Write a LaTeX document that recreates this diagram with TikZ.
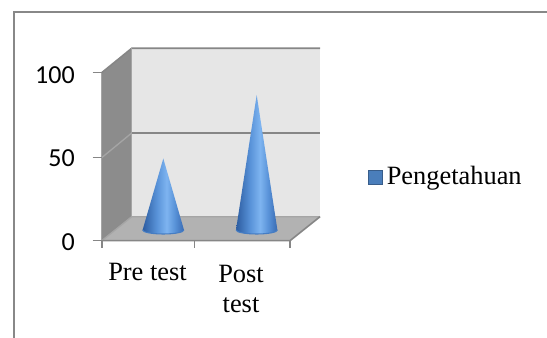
\documentclass[tikz,border=0pt]{standalone}
\usepackage{fontspec}
\setmainfont{Liberation Serif}
\newfontfamily\numfont{Carlito}
\definecolor{sidewall}{RGB}{140,140,140}
\definecolor{backwall}{RGB}{230,230,230}
\definecolor{floorc}{RGB}{178,178,178}
\definecolor{edgec}{RGB}{134,134,134}
\definecolor{lightedge}{RGB}{165,165,165}
\definecolor{framec}{RGB}{136,136,136}
\definecolor{conedark}{RGB}{44,92,160}
\definecolor{conemid}{RGB}{88,146,216}
\definecolor{conelight}{RGB}{126,180,240}
\definecolor{coneright}{RGB}{56,106,178}
\definecolor{conerimc}{RGB}{70,125,195}
\definecolor{legfill}{RGB}{74,126,187}
\definecolor{legdraw}{RGB}{56,93,138}
\pgfdeclarehorizontalshading{coneshade}{100bp}{color(0bp)=(conedark); color(25bp)=(conedark); color(42bp)=(conemid); color(54bp)=(conelight); color(64bp)=(conemid); color(75bp)=(coneright); color(100bp)=(coneright)}
\tikzset{
  edgeline/.style={draw=edgec, line width=1.2pt},
  softline/.style={draw=lightedge, line width=1pt},
  ticklabel/.style={font=\numfont\fontsize{19.5}{22}\selectfont, anchor=east, inner sep=0pt},
  catlabel/.style={font=\fontsize{19.8}{22.5}\selectfont, align=center, anchor=base, inner sep=0pt},
  conebody/.style={shading=coneshade, draw=none},
  conerim/.style={draw=conerimc, line width=0.8pt},
}
\begin{document}
\begin{tikzpicture}[x=0.75pt,y=-0.75pt]
\useasboundingbox (0,0) rectangle (547,338);
% outer frame
\coordinate (fbl) at (13.8,338);
\coordinate (ftl) at (13.8,12);
\coordinate (ftr) at (547,12);
\draw[draw=framec, line width=1.2pt] (fbl) -- (ftl) -- (ftr);
% geometry corners
\coordinate (sfl) at (101.7,240.7); % side front low
\coordinate (sfh) at (101.7,72.7);  % side front high
\coordinate (sbh) at (131.7,48.3);  % back left high
\coordinate (sbl) at (131.7,216.7); % back left low
\coordinate (bbr) at (320,216.7);   % back right low
\coordinate (btr) at (320,48.3);    % back right high
\coordinate (ffr) at (290,240.7);   % floor front right
% walls
\fill[backwall] (sbh) -- (btr) -- (bbr) -- (sbl) -- cycle;
\fill[sidewall] (sfh) -- (sbh) -- (sbl) -- (sfl) -- cycle;
\fill[floorc] (sfl) -- (sbl) -- (bbr) -- (ffr) -- cycle;
% gridlines
\coordinate (g50a) at (101.7,157.7);
\coordinate (g50b) at (131.7,133.0);
\coordinate (g50c) at (320,133.0);
\draw[softline] (g50a) -- (g50b);
\draw[edgeline] (g50b) -- (g50c);
\draw[edgeline] (sfh) -- (sbh) -- (btr);
\draw[softline] (sfl) -- (sbl) -- (bbr);
\draw[softline] (sbh) -- (sbl);
\draw[edgeline] (bbr) -- (ffr) -- (sfl);
\draw[softline] (sfl) -- (sfh);
% y ticks
\coordinate (t100) at (92.7,72.7);
\coordinate (t50) at (92.7,157.7);
\coordinate (t0) at (92.7,240.7);
\draw[edgeline] (t100) -- (sfh);
\draw[edgeline] (t50) -- (g50a);
\draw[edgeline] (t0) -- (sfl);
% x ticks
\coordinate (x0) at (101.7,248.5);
\coordinate (x1t) at (194.3,240.7);
\coordinate (x1) at (194.3,248.5);
\coordinate (x2) at (290,248.5);
\draw[edgeline] (sfl) -- (x0);
\draw[edgeline] (x1t) -- (x1);
\draw[edgeline] (ffr) -- (x2);
% tick labels
\node[ticklabel] (l100) at (75,75) {100};
\node[ticklabel] (l50) at (75,158.5) {50};
\node[ticklabel] (l0) at (75,242.5) {0};
% cones
\coordinate (apre) at (163.3,158.5);
\coordinate (apost) at (256.7,95);
\shade[conebody] (apre) -- (142.6,230) arc[start angle=180, end angle=0, x radius=20.7, y radius=4] -- cycle;
\draw[conerim] (142.6,230) arc[start angle=180, end angle=0, x radius=20.7, y radius=4];
\shade[conebody] (apost) -- (236,230) arc[start angle=180, end angle=0, x radius=20.7, y radius=4] -- cycle;
\draw[conerim] (236,230) arc[start angle=180, end angle=0, x radius=20.7, y radius=4];
% category labels
\node[catlabel] (cpre) at (147.5,280.7) {Pre test};
\node[catlabel, anchor=north] (cpost) at (241,265) {Post\\test};
% legend
\node[draw=legdraw, fill=legfill, line width=0.6pt, minimum size=10.8pt, inner sep=0pt, anchor=center] (lsq) at (375.5,177.5) {};
\node[font=\fontsize{19.8}{22}\selectfont, anchor=base west, inner sep=0pt] (ltext) at (386.5,185) {Pengetahuan};
\end{tikzpicture}
\end{document}
